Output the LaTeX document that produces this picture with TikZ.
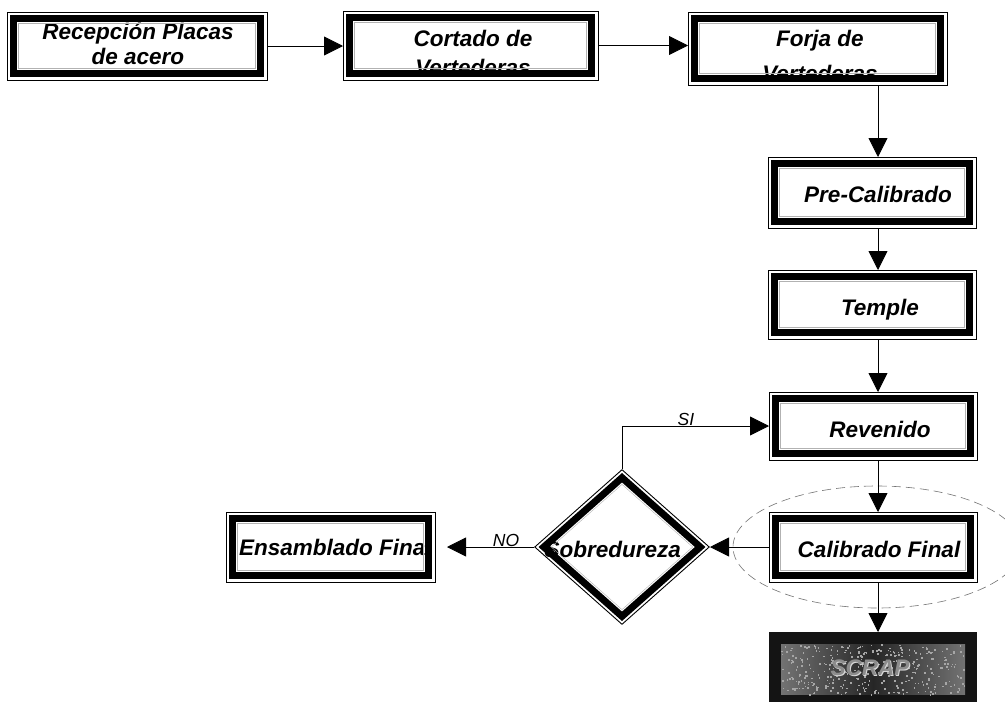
\documentclass[tikz,border=0pt]{standalone}
\usepackage{fontspec}
\setmainfont{Liberation Sans}
\usetikzlibrary{arrows.meta,shapes.geometric,calc}
\tikzset{
  lbl/.style={font=\fontsize{22.5}{26}\selectfont\bfseries\itshape, inner sep=0pt, outer sep=0pt},
  yn/.style={font=\fontsize{17.5}{20}\selectfont\itshape, inner sep=0pt, outer sep=0pt},
  boxn/.style={rectangle, draw=none, inner sep=0pt, outer sep=0pt},
  conn/.style={line width=0.8pt, -{Triangle[length=19pt,width=19pt]}},
  thinframe/.style={line width=0.9pt},
  bandframe/.style={line width=7pt},
  innerframe/.style={line width=0.4pt, black!30},
  speck/.style={fill=black!35},
}
\newcommand\myframebox[1]{%
  \draw[thinframe] (#1.north west) rectangle (#1.south east);
  \draw[bandframe] ([shift={(6.5,6.5)}]#1.north west) rectangle ([shift={(-6.5,-6.5)}]#1.south east);
  \draw[innerframe] ([shift={(11.5,11.5)}]#1.north west) rectangle ([shift={(-11.5,-11.5)}]#1.south east);
}
\begin{document}
\begin{tikzpicture}[x=1pt,y=-1pt]
\useasboundingbox[fill=white] (0,0) rectangle (1005,702);

% box nodes
\node[boxn, minimum width=260pt, minimum height=68pt] (rec) at (137,46) {};
\node[boxn, minimum width=255pt, minimum height=69pt] (cor) at (470.5,45.5) {};
\node[boxn, minimum width=259pt, minimum height=73pt] (for) at (817.5,48.5) {};
\node[boxn, minimum width=208pt, minimum height=71pt] (pre) at (872,192.5) {};
\node[boxn, minimum width=208pt, minimum height=69pt] (tem) at (872,304.5) {};
\node[boxn, minimum width=208pt, minimum height=68pt] (rev) at (873,426) {};
\node[boxn, minimum width=208pt, minimum height=70pt] (cal) at (873,547) {};
\node[boxn, minimum width=208pt, minimum height=70pt] (scr) at (873,667) {};
\node[boxn, minimum width=209pt, minimum height=70pt] (ens) at (330.5,547) {};
\node[diamond, draw=none, minimum width=176pt, minimum height=156pt, inner sep=0pt, outer sep=0pt] (dia) at (622,547) {};
\coordinate (colx) at (878,0);

% dashed ellipse
\draw[dashed, dash pattern=on 9pt off 5pt, black!55, line width=0.6pt] (877,547) ellipse [x radius=144, y radius=61];

% texts
\node[lbl, anchor=base] (t1a) at (138,39.5) {Recepción Placas};
\node[lbl, anchor=base] (t1b) at (138,64) {de acero};
\node[lbl, anchor=base] (t2a) at (473,46) {Cortado de};
\node[lbl, anchor=base] (t2b) at (473,75) {Vertederas};
\node[lbl, anchor=base] (t3a) at (820,46) {Forja de};
\node[lbl, anchor=base] (t3b) at (820,81) {Vertederas};
\node[lbl, anchor=base] (t4) at (878,202) {Pre-Calibrado};
\node[lbl, anchor=base] (t5) at (880,315) {Temple};
\node[lbl, anchor=base] (t6) at (880,437) {Revenido};
\node[lbl, anchor=base] (t7) at (879,557) {Calibrado Final};
\node[lbl, anchor=base west] (t9) at (239,555) {Ensamblado Final};
\node[lbl, anchor=base east] (t10) at (681,557) {Sobredureza};

% SCRAP box
\fill[black!92] (scr.north west) rectangle (scr.south east);
\shade[left color=black!55, right color=black!55, middle color=black!85]
  ([shift={(12,12)}]scr.north west) rectangle ([shift={(-12,-8)}]scr.south east);
\pgfmathsetseed{7}
\foreach \i in {1,...,350}{
  \pgfmathsetmacro{\sx}{781+rnd*184}
  \pgfmathsetmacro{\sy}{644+rnd*50}
  \fill[speck] (\sx,\sy) rectangle ++(1.6,1.6);
}
\node[lbl, anchor=base, text=white!85!black] (t8s) at (871,676) {SCRAP};
\node[lbl, anchor=base, text=black!45] (t8) at (870,675) {SCRAP};

% frames
\myframebox{rec}
\myframebox{cor}
\myframebox{for}
\myframebox{pre}
\myframebox{tem}
\myframebox{rev}
\myframebox{cal}
\myframebox{ens}

% diamond frame
\draw[thinframe] ([shift={(0,-77.3)}]dia.center) -- ([shift={(87.2,0)}]dia.center) -- ([shift={(0,77.3)}]dia.center) -- ([shift={(-87.2,0)}]dia.center) -- cycle;
\draw[bandframe] ([shift={(0,-69.3)}]dia.center) -- ([shift={(78.2,0)}]dia.center) -- ([shift={(0,69.3)}]dia.center) -- ([shift={(-78.2,0)}]dia.center) -- cycle;
\draw[innerframe] ([shift={(0,-62.6)}]dia.center) -- ([shift={(70.7,0)}]dia.center) -- ([shift={(0,62.6)}]dia.center) -- ([shift={(-70.7,0)}]dia.center) -- cycle;

% connectors
\draw[conn] (rec.east) -- (rec.east -| cor.west);
\draw[conn] (cor.east) -- (cor.east -| for.west);
\draw[conn] (colx |- for.south) -- (colx |- pre.north);
\draw[conn] (colx |- pre.south) -- (colx |- tem.north);
\draw[conn] (colx |- tem.south) -- (colx |- rev.north);
\draw[conn] (colx |- rev.south) -- (colx |- cal.north);
\draw[conn] (colx |- cal.south) -- (colx |- scr.north);
\draw[conn] (cal.west) -- (dia.east);
\draw[conn, shorten >=12pt] (dia.west) -- (ens.east);
\draw[conn] (dia.north) |- (rev.west);

% labels
\node[yn, anchor=base] (si) at (686,425) {SI};
\node[yn, anchor=base] (no) at (506,546) {NO};
\end{tikzpicture}
\end{document}
